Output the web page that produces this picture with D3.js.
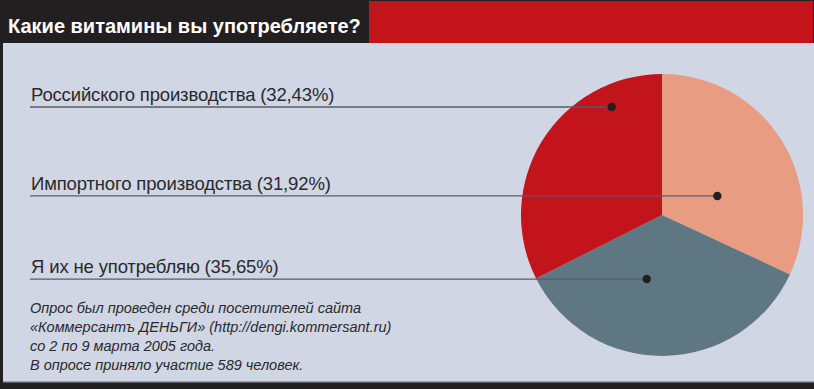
<!DOCTYPE html>
<html>
<head>
<meta charset="utf-8">
<script src="https://cdn.jsdelivr.net/npm/d3@7"></script>
<style>
  html, body { margin: 0; padding: 0; background: #221f20; }
  svg { display: block; }
</style>
</head>
<body>
<svg id="chart" width="814" height="389"></svg>
<script>
// --- data ---
const title = 'Какие витамины вы употребляете?';
const categories = ['Импортного производства', 'Я их не употребляю', 'Российского производства'];
const values = [31.92, 35.65, 32.43];
const labelOrder = ['Российского производства', 'Импортного производства', 'Я их не употребляю'];
const notes = [
  'Опрос был проведен среди посетителей сайта',
  '«Коммерсантъ ДЕНЬГИ» (http://dengi.kommersant.ru)',
  'со 2 по 9 марта 2005 года.',
  'В опросе приняло участие 589 человек.'
];

// --- layout ---
const W = 814, H = 389;
const cx = 662, cy = 215, R = 141;
// dot markers in polar form (degrees clockwise from 12 o'clock, fraction of radius)
const markers = {
  'Российского производства': { a: 335, r: 0.845 },
  'Импортного производства': { a: 71, r: 0.415 },
  'Я их не употребляю': { a: 193.4, r: 0.467 }
};

const color = d3.scaleOrdinal()
  .domain(categories)
  .range(['#e89c82', '#5f7683', '#c3131b']);

const fmt = v => d3.format('.2f')(v).replace('.', ',');

const svg = d3.select('#chart');

// frame
svg.append('rect').attr('width', W).attr('height', H).attr('fill', '#221f20');
svg.append('rect').attr('x', 3).attr('y', 43).attr('width', W - 3).attr('height', 339).attr('fill', '#d0d6e4');
svg.append('rect').attr('x', 3).attr('y', 381).attr('width', W - 3).attr('height', 1.5).attr('fill', '#9aa0ab');
svg.append('rect').attr('x', 369).attr('y', 1).attr('width', W - 370).attr('height', 42).attr('fill', '#c3131b');

svg.append('text')
  .attr('x', 8).attr('y', 33)
  .attr('fill', '#fff')
  .attr('font-family', 'Liberation Sans, Arial, sans-serif')
  .attr('font-weight', 'bold')
  .attr('font-size', 20)
  .text(title);

// pie
const pie = d3.pie().sort(null).value(d => d.value).startAngle(0).endAngle(2 * Math.PI);
const arcs = pie(categories.map((c, i) => ({ name: c, value: values[i] })));
const arc = d3.arc().innerRadius(0).outerRadius(R);

const g = svg.append('g').attr('transform', `translate(${cx},${cy})`);
g.selectAll('path')
  .data(arcs)
  .join('path')
  .attr('d', arc)
  .attr('fill', d => color(d.data.name));

// labels with leader lines
const byName = new Map(arcs.map(d => [d.data.name, d.data.value]));
const labels = svg.append('g');
labelOrder.forEach(name => {
  const m = markers[name];
  const a = m.a * Math.PI / 180;
  const px = cx + Math.sin(a) * m.r * R;
  const py = cy - Math.cos(a) * m.r * R;
  labels.append('line')
    .attr('x1', 30).attr('x2', px)
    .attr('y1', py).attr('y2', py)
    .attr('stroke', '#5a5c60')
    .attr('stroke-width', 1.3);
  labels.append('circle')
    .attr('cx', px).attr('cy', py).attr('r', 4.2)
    .attr('fill', '#221f20');
  labels.append('text')
    .attr('x', 31).attr('y', py - 6)
    .attr('fill', '#2a2a2c')
    .attr('font-family', 'Liberation Sans, Arial, sans-serif')
    .attr('font-size', 18.5)
    .attr('letter-spacing', -0.15)
    .text(`${name} (${fmt(byName.get(name))}%)`);
});

// footnote
svg.append('g').selectAll('text')
  .data(notes)
  .join('text')
  .attr('x', 30)
  .attr('y', (d, i) => 313 + i * 19)
  .attr('fill', '#2a2a2c')
  .attr('font-family', 'Liberation Sans, Arial, sans-serif')
  .attr('font-style', 'italic')
  .attr('font-size', 14.5)
  .text(d => d);
</script>
</body>
</html>
